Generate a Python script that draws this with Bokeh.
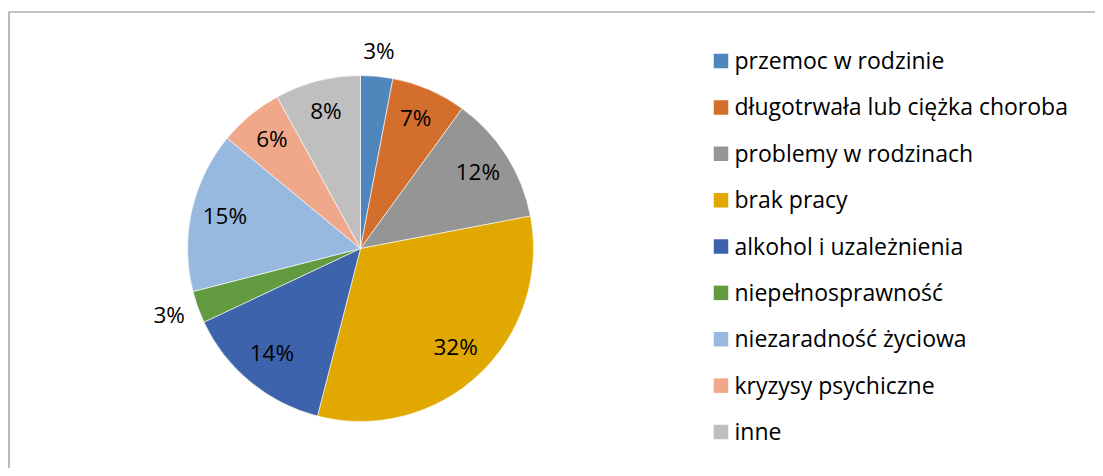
import numpy as np
from bokeh.plotting import figure
from bokeh.models import Range1d, ColumnDataSource
from bokeh.core.properties import value
from bokeh.embed import file_html
from bokeh.resources import INLINE

# ---- data ----
categories = ["przemoc w rodzinie", "długotrwała lub ciężka choroba", "problemy w rodzinach",
              "brak pracy", "alkohol i uzależnienia", "niepełnosprawność",
              "niezaradność życiowa", "kryzysy psychiczne", "inne"]
percent = [3, 7, 12, 32, 14, 3, 15, 6, 8]
colors = ["#4F87BD", "#D46E2C", "#959595", "#E0A800", "#3C63AC", "#629A3F",
          "#98B9DF", "#F0A88B", "#BFBFBF"]

FONT = "Open Sans"
W, H = 1095, 468
p = figure(width=W, height=H, output_backend="svg", toolbar_location=None,
           x_range=Range1d(0, W), y_range=Range1d(0, H), min_border=0)
p.axis.visible = False
p.grid.visible = False
p.outline_line_color = None
p.background_fill_color = "white"
p.border_fill_color = "white"

def Y(img_y):
    return H - img_y

# chart border (top and left visible)
p.line([8.5, 8.5, W], [0, Y(11.5), Y(11.5)], line_color="#8C8C8C", line_width=1.2)

# ---- pie ----
cx, cy, R = 360, Y(248), 173
vals = np.array(percent, dtype=float)
frac = vals / vals.sum()
cum = np.concatenate([[0], np.cumsum(frac)])
start = np.pi / 2 - 2 * np.pi * cum[:-1]
end = np.pi / 2 - 2 * np.pi * cum[1:]
src = ColumnDataSource(dict(start=start, end=end, color=colors))
p.wedge(x=cx, y=cy, radius=R, start_angle="start", end_angle="end", direction="clock",
        fill_color="color", line_color="white", line_width=0.6, source=src)

# labels: inside at 0.8 R, small slices outside (offset by half label box)
mid = (start + end) / 2
half_w, half_h, gap = 17, 10, 11
out_r = R + gap + half_w * np.abs(np.cos(mid)) + half_h * np.abs(np.sin(mid))
lab_r = np.where(frac < 0.05, out_r, 139)
lx = cx + lab_r * np.cos(mid)
ly = cy + lab_r * np.sin(mid) + 3
labels = [f"{v}%" for v in percent]
p.text(x=lx, y=ly, text=labels, text_font=value(FONT), text_font_size="22.5px",
       text_align="center", text_baseline="middle", text_color="#000000")

# ---- legend ----
n = len(categories)
row_y = [Y(60.5 + 46.375 * i) for i in range(n)]
p.rect(x=[720.5] * n, y=row_y, width=14.5, height=14.5, fill_color=colors, line_color=None)
p.text(x=[734] * n, y=[y + 1 for y in row_y], text=categories, text_font=value(FONT),
       text_font_size="23px", text_align="left", text_baseline="middle", text_color="#000000")

open("out.html", "w").write(file_html(p, INLINE))
